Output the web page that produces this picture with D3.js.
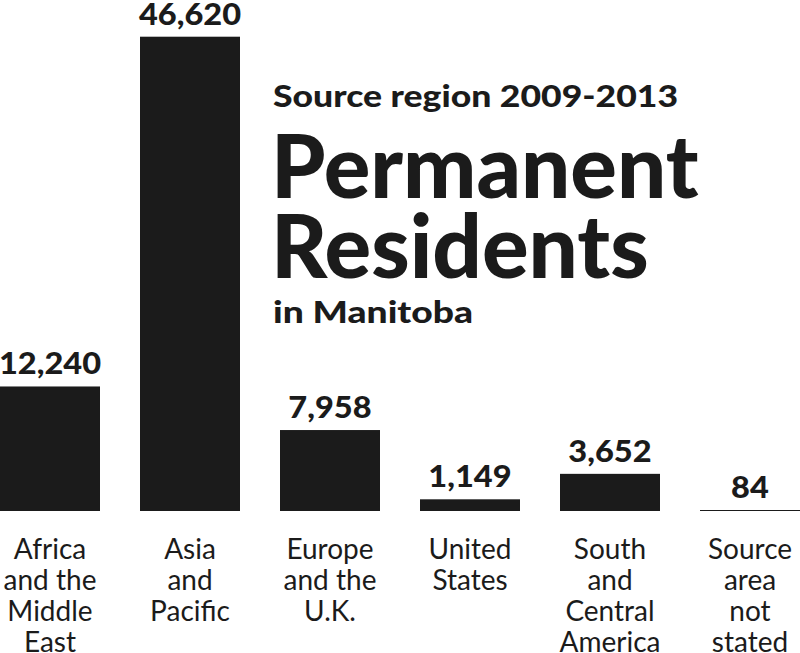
<!DOCTYPE html>
<html><head><meta charset="utf-8">
<script src="https://cdn.jsdelivr.net/npm/d3@7"></script>
<style>html,body{margin:0;padding:0;background:#fff;}svg{display:block;}</style>
</head><body>
<script>
const categories = [
  ["Africa","and the","Middle","East"],
  ["Asia","and","Pacific"],
  ["Europe","and the","U.K."],
  ["United","States"],
  ["South","and","Central","America"],
  ["Source","area","not","stated"]
];
const values = [12240, 46620, 7958, 1149, 3652, 84];
const valueLabels = ["12,240","46,620","7,958","1,149","3,652","84"];
const kicker = "Source region 2009-2013";
const titleLines = ["Permanent","Residents"];
const subtitle = "in Manitoba";

const W = 800, H = 653;
const baseY = 511;
const svg = d3.select("body").append("svg").attr("width", W).attr("height", H);

const x = d3.scaleBand().domain(d3.range(values.length)).range([0, 800]).paddingInner(40/140).paddingOuter(0);
const y = d3.scaleLinear().domain([0, 46620]).range([baseY, 36.7]);

const ink = "#1b1b1b";
const font = "Lato, 'Noto Sans', sans-serif";

svg.selectAll("rect.bar").data(values).join("rect")
  .attr("class","bar")
  .attr("x", (d,i)=>x(i)).attr("width", x.bandwidth())
  .attr("y", d=>Math.min(y(d), baseY-1)).attr("height", d=>Math.max(baseY - y(d), 1))
  .attr("fill", ink);

svg.selectAll("text.val").data(values).join("text")
  .attr("class","val")
  .attr("x",(d,i)=>x(i)+x.bandwidth()/2)
  .attr("y", d=>y(d)-12)
  .attr("text-anchor","middle")
  .attr("font-family", font).attr("font-weight", 900).attr("font-size", 31)
  .attr("fill", ink)
  .text((d,i)=>valueLabels[i])
  .each(function(){ const L=this.getComputedTextLength(); d3.select(this).attr("textLength", L*1.05).attr("lengthAdjust","spacingAndGlyphs"); });

const cat = svg.selectAll("text.cat").data(categories).join("text")
  .attr("class","cat")
  .attr("text-anchor","middle")
  .attr("font-family", font).attr("font-weight", 400).attr("font-size", 28)
  .attr("fill", ink);
cat.selectAll("tspan").data((d,i)=>d.map(s=>({s,i}))).join("tspan")
  .attr("x", d=>x(d.i)+x.bandwidth()/2)
  .attr("y", (d,j)=>559 + j*31)
  .text(d=>d.s);

svg.append("text").attr("x",273).attr("y",107)
  .attr("font-family", font).attr("font-weight", 900).attr("font-size", 30)
  .attr("textLength", 405).attr("lengthAdjust","spacingAndGlyphs")
  .attr("fill", ink).text(kicker);
svg.selectAll("text.title").data(titleLines).join("text")
  .attr("class","title")
  .attr("x",271).attr("y",(d,i)=>198 + i*80)
  .attr("font-family", font).attr("font-weight", 900).attr("font-size", 87)
  .attr("fill", ink).text(d=>d);
svg.append("text").attr("x",273).attr("y",323)
  .attr("font-family", font).attr("font-weight", 900).attr("font-size", 30)
  .attr("textLength", 200).attr("lengthAdjust","spacingAndGlyphs")
  .attr("fill", ink).text(subtitle);
</script>
</body></html>
